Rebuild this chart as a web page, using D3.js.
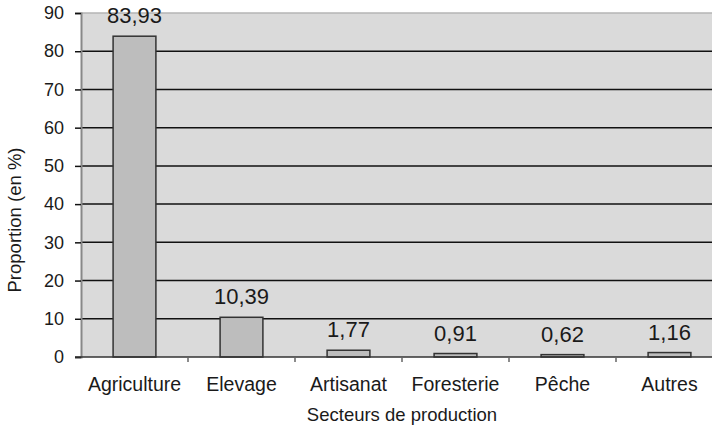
<!DOCTYPE html>
<html>
<head>
<meta charset="utf-8">
<script src="https://cdn.jsdelivr.net/npm/d3@7"></script>
<style>
  html, body { margin: 0; padding: 0; background: #fff; }
  svg { display: block; font-family: "Liberation Sans", Arial, sans-serif; }
</style>
</head>
<body>
<svg id="chart" width="712" height="427"></svg>
<script>
// Répartition par secteur de production
const categories = ["Agriculture", "Elevage", "Artisanat", "Foresterie", "Pêche", "Autres"];
const proportions = [83.93, 10.39, 1.77, 0.91, 0.62, 1.16];
const valueLabels = ["83,93", "10,39", "1,77", "0,91", "0,62", "1,16"];
const yTicks = [0, 10, 20, 30, 40, 50, 60, 70, 80, 90];
const xTitle = "Secteurs de production";
const yTitle = "Proportion (en %)";

const svg = d3.select("#chart");
const plot = { left: 81, right: 723, top: 13, bottom: 357 };

const x = d3.scaleBand()
  .domain(categories)
  .range([plot.left, plot.right])
  .paddingInner(0.6)
  .paddingOuter(0.3);

const y = d3.scaleLinear()
  .domain([0, 90])
  .range([plot.bottom, plot.top]);

// plot background
svg.append("rect")
  .attr("x", plot.left).attr("y", plot.top)
  .attr("width", plot.right - plot.left)
  .attr("height", plot.bottom - plot.top)
  .attr("fill", "#dadada");

// top border of the plot area
svg.append("line")
  .attr("x1", plot.left).attr("x2", plot.right)
  .attr("y1", y(90)).attr("y2", y(90))
  .attr("stroke", "#b4b4b4").attr("stroke-width", 1.5);

// horizontal gridlines
svg.append("g")
  .selectAll("line")
  .data(yTicks.filter(d => d > 0 && d < 90))
  .join("line")
  .attr("x1", plot.left).attr("x2", plot.right)
  .attr("y1", d => y(d)).attr("y2", d => y(d))
  .attr("stroke", "#111").attr("stroke-width", 1.5);

// y axis
const yAxis = svg.append("g")
  .attr("transform", `translate(${plot.left},0)`)
  .call(d3.axisLeft(y).tickValues(yTicks).tickSize(6).tickPadding(11).tickFormat(d3.format("d")));
yAxis.select(".domain").attr("stroke", "#888").attr("stroke-width", 2);
yAxis.selectAll(".tick line").attr("stroke", "#111").attr("stroke-width", 1.5);
yAxis.selectAll(".tick text")
  .attr("font-size", 18).attr("fill", "#1a1a1a")
  .attr("font-family", "'Liberation Sans', Arial, sans-serif");

// bars
svg.append("g")
  .selectAll("rect")
  .data(categories)
  .join("rect")
  .attr("x", d => x(d))
  .attr("y", (d, i) => y(proportions[i]))
  .attr("width", x.bandwidth())
  .attr("height", (d, i) => y(0) - y(proportions[i]))
  .attr("fill", "#bdbdbd")
  .attr("stroke", "#333")
  .attr("stroke-width", 1.5);

// value labels
svg.append("g")
  .selectAll("text")
  .data(categories)
  .join("text")
  .attr("x", d => x(d) + x.bandwidth() / 2)
  .attr("y", (d, i) => y(proportions[i]) - 13)
  .attr("text-anchor", "middle")
  .attr("font-size", 22)
  .attr("fill", "#1a1a1a")
  .text((d, i) => valueLabels[i]);

// x axis line
svg.append("line")
  .attr("x1", plot.left - 6).attr("x2", plot.right)
  .attr("y1", plot.bottom).attr("y2", plot.bottom)
  .attr("stroke", "#333").attr("stroke-width", 1.5);

// x ticks at category boundaries
const step = x.step();
const boundaries = d3.range(1, categories.length).map(i => x(categories[i]) - (step - x.bandwidth()) / 2);
svg.append("g")
  .selectAll("line")
  .data(boundaries)
  .join("line")
  .attr("x1", d => d).attr("x2", d => d)
  .attr("y1", plot.bottom).attr("y2", plot.bottom + 5)
  .attr("stroke", "#666").attr("stroke-width", 1.5);

// category labels
svg.append("g")
  .selectAll("text")
  .data(categories)
  .join("text")
  .attr("x", d => x(d) + x.bandwidth() / 2)
  .attr("y", 391)
  .attr("text-anchor", "middle")
  .attr("font-size", 19.5)
  .attr("fill", "#1a1a1a")
  .text(d => d);

// axis titles
svg.append("text")
  .attr("x", (plot.left + plot.right) / 2)
  .attr("y", 421)
  .attr("text-anchor", "middle")
  .attr("font-size", 18.5)
  .attr("fill", "#1a1a1a")
  .text(xTitle);

svg.append("text")
  .attr("transform", `translate(21,${(plot.top + plot.bottom) / 2 + 35}) rotate(-90)`)
  .attr("text-anchor", "middle")
  .attr("font-size", 18.5)
  .attr("fill", "#1a1a1a")
  .text(yTitle);
</script>
</body>
</html>
